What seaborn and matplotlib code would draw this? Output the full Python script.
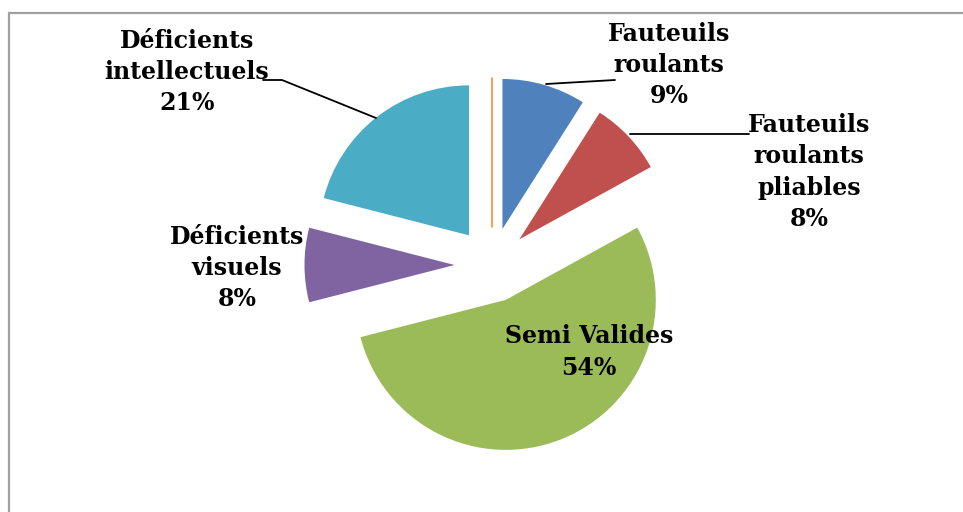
import matplotlib
matplotlib.use("Agg")
import matplotlib.pyplot as plt
import seaborn as sns
from matplotlib.patches import Rectangle

# === Data ===
categories = ["Fauteuils roulants", "Fauteuils roulants pliables", "Semi Valides",
              "Déficients visuels", "Déficients intellectuels", "Autres"]
values = [9, 8, 54, 8, 21, 0]
label_texts = ["Fauteuils\nroulants", "Fauteuils\nroulants\npliables", "Semi Valides",
               "Déficients\nvisuels", "Déficients\nintellectuels", None]
colors = ["#4F81BD", "#C0504D", "#9BBB59", "#8064A2", "#4BACC6", "#F79646"]

sns.set_theme(style="white")
plt.rcParams['font.family'] = ['DejaVu Serif']

W, H = 963, 512
fig = plt.figure(figsize=(W / 100, H / 100), dpi=100)
ax = fig.add_axes([0, 0, 1, 1])

# pie in pixel-like coordinates (y up); explode is in data units here
cx, cy, r = 492, H - 265, 150
wedges, _ = ax.pie(values, colors=colors, startangle=90, counterclock=False,
                   explode=[37.5] * len(values), radius=r, center=(cx, cy),
                   wedgeprops=dict(linewidth=0))
wedges[-1].set_edgecolor(colors[-1])
wedges[-1].set_linewidth(1.3)

ax.set_xlim(0, W)
ax.set_ylim(0, H)
ax.set_aspect("equal")
ax.axis("off")

# labels (x, y in pixels from top-left)
label_pos = [(669, 65), (809, 172), (589, 352), (237, 268), (187, 72)]
for txt, v, (lx, ly) in zip(label_texts, values, label_pos):
    ax.text(lx, H - ly, f"{txt}\n{v}%", ha="center", va="center",
            multialignment="center", fontsize=17, fontweight="bold",
            color="black", linespacing=1.38)

# leader lines
leaders = [
    [(546, 84), (615, 80)],
    [(630, 134), (749, 134)],
    [(263, 80), (282, 80), (376, 118)],
]
for pts in leaders:
    ax.plot([p[0] for p in pts], [H - p[1] for p in pts], color="black", lw=1.3)

# outer frame
fig.patches.append(Rectangle((8.5 / W, -0.1), 1.2, 1.1 - 12.5 / H,
                             transform=fig.transFigure, fill=False,
                             edgecolor="#A0A0A0", linewidth=1.6))

fig.savefig("out.png", dpi=100)
